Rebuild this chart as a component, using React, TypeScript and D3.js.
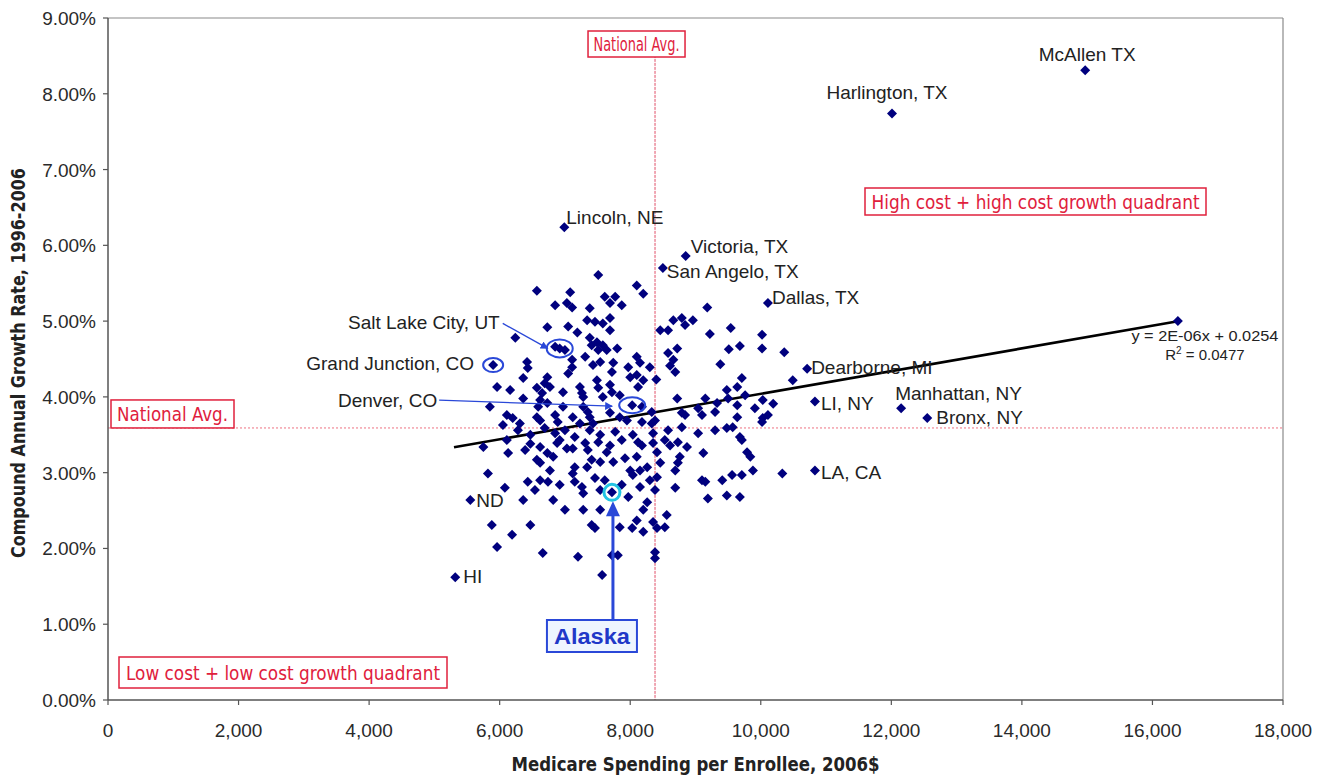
import React from 'react';
import * as d3 from 'd3';

const W = 1329;
const H = 777;

const xTicks = [0, 2000, 4000, 6000, 8000, 10000, 12000, 14000, 16000, 18000];
const yTicks = [0, 1, 2, 3, 4, 5, 6, 7, 8, 9];

const nationalAvgSpending = 8380;
const nationalAvgGrowth = 3.59;
const trendSlope = 0.00015; // percentage points per $
const trendIntercept = 2.54; // %
const trendRange = [5300, 16390];

// Labeled regions [name, spending, growth %]
const labeledCities: [string, number, number][] = [
  ['McAllen TX', 14970, 8.31],
  ['Harlington, TX', 12010, 7.74],
  ['Lincoln, NE', 6990, 6.24],
  ['Victoria, TX', 8850, 5.86],
  ['San Angelo, TX', 8500, 5.7],
  ['Dallas, TX', 10110, 5.24],
  ['Dearborne, MI', 10710, 4.37],
  ['LI, NY', 10830, 3.94],
  ['Manhattan, NY', 12150, 3.85],
  ['Bronx, NY', 12550, 3.72],
  ['LA, CA', 10830, 3.03],
  ['ND', 5550, 2.64],
  ['HI', 5320, 1.62],
];

const grandJunction: [number, number] = [5900, 4.42];
const saltLakeCity: [number, number] = [6920, 4.64];
const denver: [number, number] = [8030, 3.89];
const alaska: [number, number] = [7720, 2.74];
const highestSpender: [number, number] = [16390, 5.0];

// Unlabeled hospital referral regions [spending, growth %]
const upperCluster: [number, number][] = [
  [7510, 5.61], [6570, 5.4], [7080, 5.38], [6850, 5.21], [7030, 5.24], [7110, 5.18], [7380, 5.17],
  [7610, 5.32], [7770, 5.32], [7690, 5.24], [7870, 5.21], [8100, 5.47], [6730, 4.92], [7050, 4.93],
  [7190, 4.85], [7340, 5.01], [7460, 4.99], [7580, 4.97], [7690, 5.04], [7690, 4.88], [6240, 4.78],
  [6850, 4.66], [7000, 4.62], [7380, 4.78], [7490, 4.72], [7410, 4.68], [7580, 4.68], [7510, 4.62],
  [7640, 4.62], [7800, 4.64], [7110, 4.49], [7110, 4.39], [7050, 4.31], [7310, 4.53], [7430, 4.42],
  [7540, 4.46], [7740, 4.45], [7720, 4.33], [7970, 4.39], [8000, 4.26], [8100, 4.29], [6420, 4.46],
  [6430, 4.38], [6360, 4.25], [6730, 4.26], [6690, 4.18], [6770, 4.13], [5960, 4.13], [6160, 4.09],
  [6570, 4.12], [6650, 4.05], [6970, 4.06], [7230, 4.13], [7260, 4.05], [7280, 4.0], [7490, 4.22],
  [7510, 4.12], [7690, 4.16], [7720, 4.06], [7840, 4.02], [5850, 3.87], [6360, 3.98], [6620, 3.96],
  [6730, 3.92], [6590, 3.87], [6970, 3.87], [7280, 3.87], [7350, 3.8], [7580, 4.0], [6110, 3.76],
  [6200, 3.72], [6310, 3.65], [6050, 3.63], [6570, 3.73], [6620, 3.69], [6850, 3.76], [6890, 3.67],
  [7120, 3.73], [7230, 3.65], [7380, 3.73], [7430, 3.65], [7690, 3.79], [7840, 3.73], [7950, 3.69],
];

const upperRight: [number, number][] = [
  [8200, 5.36], [9180, 5.18], [8660, 5.01], [8790, 5.04], [8960, 5.01], [8840, 4.95], [8460, 4.88],
  [8580, 4.88], [9220, 4.83], [9540, 4.91], [10020, 4.82], [9510, 4.63], [9680, 4.67], [10020, 4.64],
  [10360, 4.59], [8720, 4.64], [8580, 4.58], [8660, 4.49], [8610, 4.41], [8690, 4.33], [9380, 4.43],
  [8100, 4.53], [8150, 4.45], [8200, 4.22], [8120, 4.13], [8300, 4.39], [8400, 4.23], [10490, 4.22],
  [9710, 4.25], [9640, 4.13], [9480, 4.09], [8720, 3.98], [9150, 3.98], [9330, 3.92], [9040, 3.85],
  [9100, 3.76], [9500, 3.98], [9640, 3.89], [9760, 4.02], [9910, 3.85], [10030, 3.96], [10190, 3.91],
  [10030, 3.72], [10110, 3.76], [8790, 3.79], [8840, 3.76], [8330, 3.8], [8380, 3.69], [8180, 3.87],
  [9300, 3.8], [9640, 3.73],
];

const lowerCluster: [number, number][] = [
  [5750, 3.34], [6130, 3.26], [6390, 3.3], [6620, 3.34], [6730, 3.26], [6880, 3.39], [7030, 3.32],
  [7120, 3.32], [6570, 3.17], [6620, 3.13], [6820, 3.21], [7350, 3.3], [7510, 3.4], [7640, 3.27],
  [7410, 3.17], [7540, 3.14], [7740, 3.14], [7150, 3.07], [7120, 2.99], [6770, 3.03], [7340, 3.07],
  [7920, 3.19], [8000, 3.03], [8040, 2.97], [8150, 3.03], [5820, 2.99], [6430, 2.88], [6620, 2.9],
  [6740, 2.88], [6920, 2.84], [7150, 2.88], [7260, 2.81], [7460, 2.93], [7610, 2.9], [6080, 2.8],
  [6540, 2.77], [7540, 2.77], [7870, 2.84], [7970, 2.68], [6360, 2.64], [6820, 2.64], [7000, 2.51],
  [7280, 2.73], [7280, 2.51], [7540, 2.51], [5880, 2.31], [6470, 2.31], [6190, 2.18], [7410, 2.31],
  [7460, 2.27], [7840, 2.28], [8030, 2.27], [5960, 2.02], [6660, 1.94], [7200, 1.89], [7720, 1.91],
  [7810, 1.91], [7570, 1.65], [6280, 3.56], [6470, 3.5], [6690, 3.59], [6850, 3.52], [7000, 3.56],
  [7150, 3.47], [7380, 3.56], [7540, 3.5], [7770, 3.54], [7870, 3.43], [6110, 3.43], [6470, 3.38],
  [6920, 3.43], [7310, 3.39], [7690, 3.36],
];

const lowerRight: [number, number][] = [
  [8180, 3.67], [8330, 3.65], [8790, 3.6], [8580, 3.56], [9040, 3.52], [9300, 3.56], [9480, 3.59],
  [9570, 3.6], [9680, 3.47], [9710, 3.43], [10020, 3.67], [8040, 3.5], [8120, 3.4], [8180, 3.36],
  [8350, 3.52], [8350, 3.39], [8410, 3.27], [8530, 3.43], [8610, 3.36], [8730, 3.4], [8870, 3.34],
  [9120, 3.26], [9790, 3.27], [9840, 3.21], [8100, 3.21], [8460, 3.13], [8760, 3.21], [8730, 3.13],
  [8690, 3.03], [8260, 3.07], [8150, 2.81], [8300, 2.9], [8410, 2.94], [8380, 2.77], [8690, 2.8],
  [9100, 2.9], [9150, 2.88], [9410, 2.9], [9560, 2.97], [9710, 2.97], [9880, 3.03], [10330, 2.99],
  [9190, 2.66], [9480, 2.7], [9680, 2.68], [8260, 2.61], [8200, 2.51], [8100, 2.37], [8200, 2.22],
  [8350, 2.35], [8410, 2.27], [8560, 2.44], [8530, 2.28], [8380, 1.95], [8380, 1.87],
];

const FONT = "'Liberation Sans', Arial, Helvetica, sans-serif";
const NARROW = "'Liberation Sans Narrow', 'Arial Narrow', 'DejaVu Sans Condensed', 'Liberation Sans', sans-serif";
const RED = '#e0203c';
const NAVY = '#00007e';
const BLUE = '#2a48d8';

const labelLayout: Record<string, { dx: number; dy: number; anchor: 'start' | 'middle' | 'end' }> = {
  'McAllen TX': { dx: 2, dy: -9, anchor: 'middle' },
  'Harlington, TX': { dx: -5, dy: -14, anchor: 'middle' },
  'Lincoln, NE': { dx: 2, dy: -3, anchor: 'start' },
  'Victoria, TX': { dx: 5, dy: -3, anchor: 'start' },
  'San Angelo, TX': { dx: 4, dy: 10, anchor: 'start' },
  'Dallas, TX': { dx: 4, dy: 1, anchor: 'start' },
  'Dearborne, MI': { dx: 4, dy: 5, anchor: 'start' },
  'LI, NY': { dx: 6, dy: 9, anchor: 'start' },
  'Manhattan, NY': { dx: -6, dy: -8, anchor: 'start' },
  'Bronx, NY': { dx: 9, dy: 6, anchor: 'start' },
  'LA, CA': { dx: 6, dy: 9, anchor: 'start' },
  ND: { dx: 6, dy: 7, anchor: 'start' },
  HI: { dx: 8, dy: 6, anchor: 'start' },
};

export default function App() {
  const x = d3.scaleLinear().domain([0, 18000]).range([108, 1283]);
  const y = d3.scaleLinear().domain([0, 9]).range([700, 18]);
  const diamond = d3.symbol(d3.symbolSquare, 50)() as string;
  const fmtX = d3.format(',');
  const fmtY = (v: number) => v.toFixed(2) + '%';

  const allPoints: [number, number][] = [
    ...labeledCities.map((c) => [c[1], c[2]] as [number, number]),
    grandJunction, saltLakeCity, denver, alaska, highestSpender,
    ...upperCluster, ...upperRight, ...lowerCluster, ...lowerRight,
  ];

  const x0 = x(0), x1 = x(18000), y0 = y(0), y1 = y(9);
  const natX = x(nationalAvgSpending);
  const natY = y(nationalAvgGrowth);
  const trend = d3.line<number>()
    .x((d) => x(d))
    .y((d) => y(trendIntercept + trendSlope * d));

  const gj = [x(grandJunction[0]), y(grandJunction[1])];
  const sl = [x(saltLakeCity[0]), y(saltLakeCity[1])];
  const dv = [x(denver[0]), y(denver[1])];
  const ak = [x(alaska[0]), y(alaska[1])];
  const hs = [x(highestSpender[0]), y(highestSpender[1])];

  const redBox = (bx: number, by: number, bw: number, bh: number, text: string, size: number, tl: number, key: string) => (
    <g key={key}>
      <rect x={bx} y={by} width={bw} height={bh} fill="#fff" stroke={RED} strokeWidth={1.5} />
      <text x={bx + bw / 2} y={by + bh / 2 + size * 0.36} textAnchor="middle" fill={RED}
        fontFamily={NARROW} fontSize={size} textLength={tl} lengthAdjust="spacingAndGlyphs">{text}</text>
    </g>
  );

  return (
    <svg width={W} height={H} style={{ position: 'absolute', left: 0, top: 0, background: '#fff' }}
      fontFamily={FONT}>
      <defs>
        <marker id="arrowBlue" viewBox="0 0 10 10" refX="9" refY="5" markerWidth="6" markerHeight="6" orient="auto">
          <path d="M0,0 L10,5 L0,10 Z" fill={BLUE} />
        </marker>
      </defs>
      <rect x={0} y={0} width={W} height={H} fill="#fff" />

      {/* plot frame */}
      <line x1={x0} x2={x1} y1={y1} y2={y1} stroke="#8a8a8a" strokeWidth={1.2} />
      <line x1={x1} x2={x1} y1={y1} y2={y0} stroke="#8a8a8a" strokeWidth={1.2} />

      {/* national average lines */}
      <line x1={x0} x2={x1} y1={natY} y2={natY} stroke="#ee7080" strokeWidth={1} strokeDasharray="2,2" />
      <line x1={natX} x2={natX} y1={y(8.83)} y2={y0} stroke="#e05068" strokeWidth={1} strokeDasharray="3,1" />

      {/* axes */}
      <line x1={x0} x2={x0} y1={y1} y2={y0} stroke="#555" strokeWidth={1.5} />
      <line x1={x0} x2={x1} y1={y0} y2={y0} stroke="#555" strokeWidth={1.5} />
      {yTicks.map((t) => (
        <g key={'yt' + t}>
          <line x1={x0 - 5} x2={x0} y1={y(t)} y2={y(t)} stroke="#555" strokeWidth={1.2} />
          <text x={96} y={y(t) + 7} textAnchor="end" fontSize={19} fill="#2a2a2a">{fmtY(t)}</text>
        </g>
      ))}
      {xTicks.map((t) => (
        <g key={'xt' + t}>
          <line x1={x(t)} x2={x(t)} y1={y0} y2={y0 + 5} stroke="#555" strokeWidth={1.2} />
          <text x={x(t)} y={737} textAnchor="middle" fontSize={19} fill="#2a2a2a">{fmtX(t)}</text>
        </g>
      ))}

      {/* axis titles */}
      <text x={(x0 + x1) / 2} y={771} textAnchor="middle" fontFamily={NARROW} fontWeight="bold" fontSize={19}
        fill="#222" textLength={368} lengthAdjust="spacingAndGlyphs">Medicare Spending per Enrollee, 2006$</text>
      <text transform={`translate(25,${363}) rotate(-90)`} textAnchor="middle" fontFamily={NARROW} fontWeight="bold"
        fontSize={19} fill="#222" textLength={390} lengthAdjust="spacingAndGlyphs">Compound Annual Growth Rate, 1996-2006</text>

      {/* red annotation boxes */}
      {redBox(natX - 67, 31, 97, 26, 'National Avg.', 19, 86, 'nat1')}
      {redBox(111, natY - 28, 123, 28, 'National Avg.', 20, 111, 'nat2')}
      {redBox(865, 188, 341, 27, 'High cost + high cost growth quadrant', 20, 328, 'hi')}
      {redBox(119, 657, 328, 31, 'Low cost + low cost growth quadrant', 20, 314, 'lo')}

      {/* trend line */}
      <path d={trend(trendRange) as string} stroke="#000" strokeWidth={2.6} fill="none" />

      {/* points */}
      {allPoints.map((p, i) => (
        <path key={'p' + i} d={diamond} transform={`translate(${x(p[0])},${y(p[1])}) rotate(45)`} fill={NAVY} />
      ))}

      {/* trend equation */}
      <text x={hs[0] + 27} y={hs[1] + 20} textAnchor="middle" fontSize={15} fill="#222" textLength={147}
        lengthAdjust="spacingAndGlyphs">y = 2E-06x + 0.0254</text>
      <text x={hs[0] + 27} y={hs[1] + 39} textAnchor="middle" fontSize={15} fill="#222">
        R<tspan dy={-6} fontSize={10}>2</tspan><tspan dy={6}> = 0.0477</tspan>
      </text>

      {/* labels */}
      {labeledCities.map(([name, sx, gy]) => {
        const l = labelLayout[name];
        return (
          <text key={name} x={x(sx) + l.dx} y={y(gy) + l.dy} textAnchor={l.anchor} fontSize={19} fill="#222">{name}</text>
        );
      })}

      {/* callouts */}
      <ellipse cx={gj[0]} cy={gj[1]} rx={10} ry={7} fill="none" stroke={BLUE} strokeWidth={2} />
      <text x={gj[0] - 19} y={gj[1] + 5} textAnchor="end" fontSize={19} fill="#222">Grand Junction, CO</text>

      <ellipse cx={sl[0]} cy={sl[1]} rx={13} ry={9} fill="none" stroke={BLUE} strokeWidth={2} />
      <line x1={sl[0] - 57} y1={sl[1] - 25} x2={sl[0] - 12} y2={sl[1]} stroke={BLUE} strokeWidth={1.3}
        markerEnd="url(#arrowBlue)" />
      <text x={sl[0] - 60} y={sl[1] - 19} textAnchor="end" fontSize={19} fill="#222">Salt Lake City, UT</text>

      <ellipse cx={dv[0]} cy={dv[1]} rx={13} ry={8} fill="none" stroke={BLUE} strokeWidth={2} />
      <line x1={dv[0] - 193} y1={dv[1] - 5} x2={dv[0] - 20} y2={dv[1] + 1} stroke={BLUE} strokeWidth={1.3}
        markerEnd="url(#arrowBlue)" />
      <text x={dv[0] - 195} y={dv[1] + 2} textAnchor="end" fontSize={19} fill="#222">Denver, CO</text>

      {/* Alaska */}
      <circle cx={ak[0]} cy={ak[1]} r={8} fill="none" stroke="#22c4e4" strokeWidth={3} />
      <line x1={ak[0] + 1} x2={ak[0] + 1} y1={620} y2={ak[1] + 22} stroke={BLUE} strokeWidth={3} />
      <path d={`M${ak[0] + 1},${ak[1] + 9} L${ak[0] - 6},${ak[1] + 24} L${ak[0] + 8},${ak[1] + 24} Z`} fill={BLUE} />
      <rect x={ak[0] - 65} y={620} width={90} height={32} fill="#eef5ff" stroke={BLUE} strokeWidth={2} />
      <text x={ak[0] - 20} y={644} textAnchor="middle" fontSize={22} fontWeight="bold" fill="#1f38c8"
        textLength={76} lengthAdjust="spacingAndGlyphs">Alaska</text>
    </svg>
  );
}
